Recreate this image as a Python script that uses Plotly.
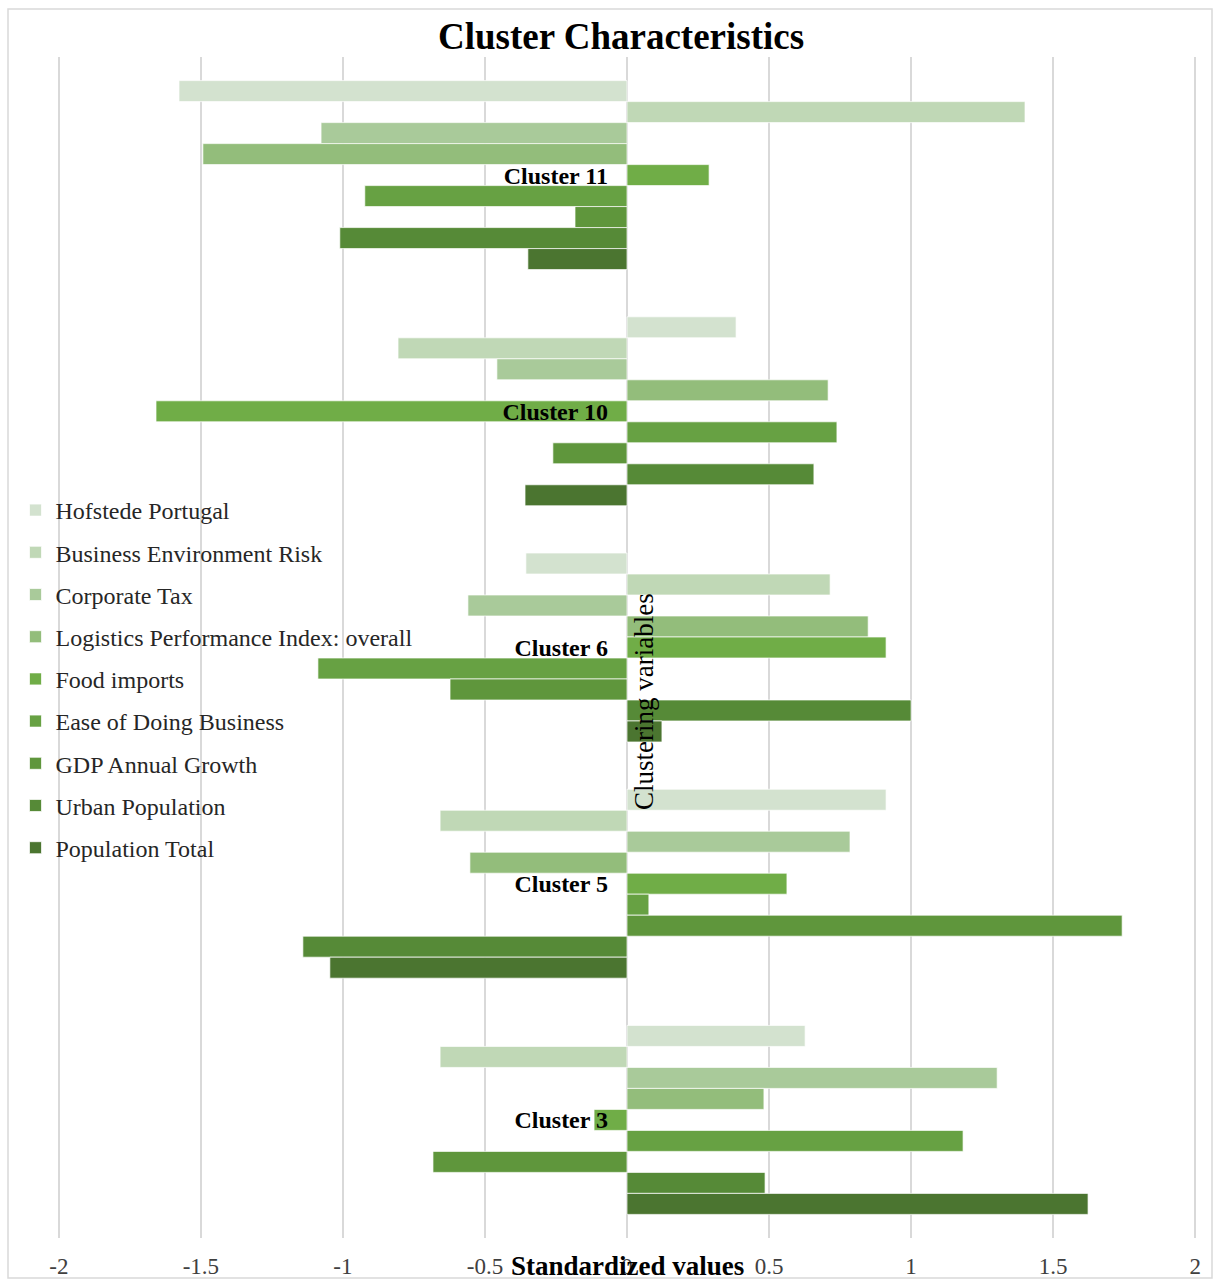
import plotly.graph_objects as go

clusters = ["Cluster 11", "Cluster 10", "Cluster 6", "Cluster 5", "Cluster 3"]
variables = ["Hofstede Portugal", "Business Environment Risk", "Corporate Tax",
             "Logistics Performance Index: overall", "Food imports",
             "Ease of Doing Business", "GDP Annual Growth", "Urban Population",
             "Population Total"]

hofstede = [-1.577, 0.384, -0.356, 0.912, 0.627]
business_env_risk = [1.401, -0.806, 0.715, -0.658, -0.658]
corporate_tax = [-1.077, -0.458, -0.560, 0.785, 1.303]
lpi_overall = [-1.493, 0.708, 0.849, -0.553, 0.482]
food_imports = [0.289, -1.658, 0.912, 0.563, -0.116]
ease_business = [-0.923, 0.739, -1.088, 0.077, 1.183]
gdp_growth = [-0.183, -0.261, -0.623, 1.743, -0.683]
urban_population = [-1.011, 0.658, 1.000, -1.141, 0.486]
population_total = [-0.349, -0.359, 0.123, -1.046, 1.623]

series = [hofstede, business_env_risk, corporate_tax, lpi_overall, food_imports,
          ease_business, gdp_growth, urban_population, population_total]
colors = ["#D3E2CF", "#C0D8B6", "#A9CA9A", "#93BD7B", "#70AD47",
          "#67A143", "#5F963C", "#568A37", "#4B7530"]

x_ticks = [-2, -1.5, -1, -0.5, 0, 0.5, 1, 1.5, 2]

FONT = "Liberation Serif, Times New Roman, serif"

L, R, T, B = 56, 15, 57, 41
PW = 1213 - L - R
PH = 1279 - T - B


def px_x(px):
    return (px - L) / PW


def px_y(py):
    return (1279 - B - py) / PH


fig = go.Figure()
for name, vals, col in zip(variables, series, colors):
    fig.add_trace(go.Bar(
        y=clusters, x=vals, name=name, orientation="h",
        marker=dict(color=col, line=dict(color="rgba(255,255,255,0.7)", width=1)),
        legendgroup=name,
    ))

fig.update_layout(
    barmode="group", bargap=0.2, bargroupgap=0,
    width=1213, height=1279,
    margin=dict(l=L, r=R, t=T, b=B, autoexpand=False),
    paper_bgcolor="white", plot_bgcolor="white",
    font=dict(family=FONT, color="#404040", size=20),
    title=dict(text="<b>Cluster Characteristics</b>", xref="container", x=0.512,
               xanchor="center", y=1 - 36 / 1279, yanchor="middle",
               font=dict(family=FONT, size=37, color="black")),
    xaxis=dict(range=[-2.01, 2.01], tickvals=x_ticks, ticktext=[f"{v:g}" for v in x_ticks],
               showgrid=True, gridcolor="#D9D9D9", gridwidth=2,
               zeroline=False, showline=False, ticks="",
               ticklabelstandoff=12, automargin=False,
               tickfont=dict(family=FONT, size=23, color="#404040")),
    yaxis=dict(categoryorder="array", categoryarray=clusters, autorange="reversed",
               anchor="free", position=0.5, showgrid=False, zeroline=False,
               showline=False, ticks="", ticklabelstandoff=19, automargin=False,
               tickfont=dict(family=FONT, size=24, color="black", weight="bold")),
    legend=dict(x=px_x(15.5), y=px_y(488), xanchor="left", yanchor="top",
                bgcolor="rgba(0,0,0,0)", tracegroupgap=8, itemwidth=30,
                font=dict(family=FONT, size=24, color="#262626")),
    annotations=[
        dict(text="<b>Standardized values</b>", xref="paper", yref="paper",
             x=0.5, y=px_y(1266), xanchor="center", yanchor="middle",
             showarrow=False, font=dict(family=FONT, size=27, color="black")),
        dict(text="Clustering variables", xref="x", yref="paper",
             x=0, y=px_y(702), xanchor="left", yanchor="middle",
             xshift=0, textangle=-90, showarrow=False,
             font=dict(family=FONT, size=27, color="black")),
    ],
    shapes=[dict(type="rect", xref="paper", yref="paper",
                 x0=px_x(8), x1=px_x(1212), y0=px_y(1278), y1=px_y(9),
                 line=dict(color="#D9D9D9", width=1.5), layer="below")],
)

fig.write_html("out.html")
